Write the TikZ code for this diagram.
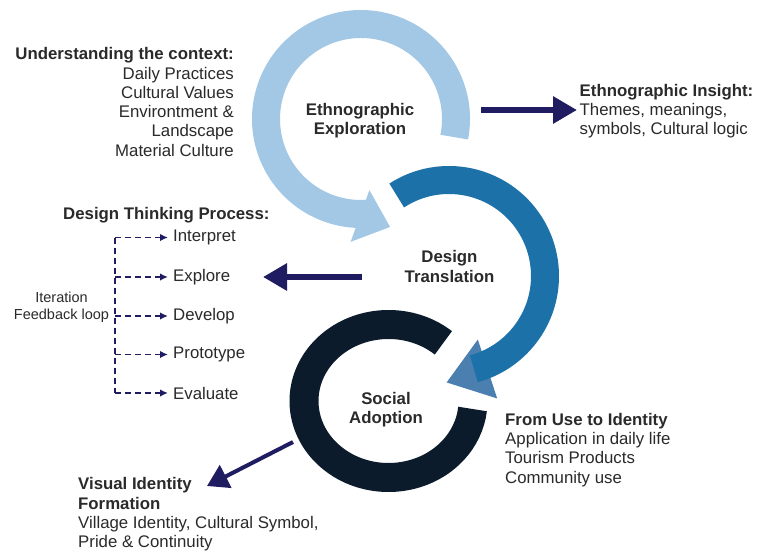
\documentclass[tikz,border=0pt]{standalone}
\usepackage{fontspec}
\setmainfont{Liberation Sans}
\usetikzlibrary{arrows.meta}
\definecolor{ringlight}{HTML}{A3C8E6}
\definecolor{ringmid}{HTML}{1C72A8}
\definecolor{ringhead}{HTML}{4A7FB0}
\definecolor{ringdark}{HTML}{0B1B2B}
\definecolor{navy}{HTML}{1F1C61}
\definecolor{ink}{HTML}{2A2A2A}

\begin{document}
\begin{tikzpicture}[x=1pt,y=-1pt,
  txt/.style={inner sep=0pt, text=ink, font=\fontsize{16.8}{19.3}\selectfont},
  bold/.style={txt, font=\fontsize{16.8}{19.3}\selectfont\bfseries},
  small/.style={txt, font=\fontsize{14.5}{17}\selectfont},
  bigarrow/.style={draw=navy, line width=6pt, -{Triangle[length=24pt,width=26pt]}},
  slimarrow/.style={draw=navy, line width=4pt, -{Triangle[length=21pt,width=25pt]}},
  loopline/.style={draw=navy, line width=1.6pt, dash pattern=on 6pt off 4pt},
  looparrow/.style={loopline, -{Latex[length=8pt,width=7.5pt]}},
]
\useasboundingbox (0,0) rectangle (758,551);
\fill[white] (0,0) rectangle (758,551);

% ---- ring 1: ethnographic exploration (light blue, turning left) ----
\draw[ringlight, line width=28pt] (361,119) ++(11:95)
  arc[start angle=11, end angle=-276, radius=95];
\fill[ringlight, shift={(360,216)}, rotate=-20]
  (0,-27.5) -- (32,0) -- (0,27.5) -- cycle;

% ---- ring 2: design translation (mid blue, turning right) ----
\fill[ringhead, shift={(487.5,369)}, rotate=-161.8]
  (0,-31) -- (43,0) -- (0,31) -- cycle;
\draw[ringmid, line width=28pt] (449,276) ++(-123:96)
  arc[start angle=-123, end angle=75, radius=96];

% ---- ring 3: social adoption (dark navy, open to the right) ----
\draw[ringdark, line width=29pt] (388.5,401) ++(-49.5:84.5 and 76.5)
  arc[start angle=-49.5, end angle=-354, x radius=84.5, y radius=76.5];

% ---- ring labels ----
\node[bold, align=center] (ethno) at (360,121) {Ethnographic\\Exploration};
\node[bold, align=center] (design) at (449.5,266.5) {Design\\Translation};
\node[bold, align=center] (social) at (386,409.5) {Social\\Adoption};

% ---- context block ----
\node[txt, align=right, anchor=east] (context) at (234,102)
  {{\bfseries Understanding the context:}\\Daily Practices\\Cultural Values\\Environtment \&\\Landscape\\Material Culture};

% ---- ethnographic insight ----
\node[txt, align=left, anchor=west] (insight) at (579.5,111)
  {{\bfseries Ethnographic Insight:}\\Themes, meanings,\\symbols, Cultural logic};
\coordinate (insightTail) at (481,110);
\coordinate (insightTip) at (577,110);
\draw[bigarrow] (insightTail) -- (insightTip);

% ---- design thinking process ----
\node[bold, anchor=west] (dtp) at (63,215) {Design Thinking Process:};
\node[txt, anchor=west] (interp) at (173,237.5) {Interpret};
\node[txt, anchor=west] (explore) at (173,277) {Explore};
\node[txt, anchor=west] (develop) at (173,316) {Develop};
\node[txt, anchor=west] (proto) at (173,354.5) {Prototype};
\node[txt, anchor=west] (evalu) at (173,393) {Evaluate};
\node[small, align=center] (iter) at (61.5,307) {Iteration\\Feedback loop};

\coordinate (trunkTop) at (115,237.5);
\coordinate (trunkExplore) at (115,277);
\coordinate (trunkDevelop) at (115,316);
\coordinate (trunkProto) at (115,354.5);
\coordinate (trunkBottom) at (115,393);
\draw[loopline] (trunkTop) -- (trunkBottom);
\draw[looparrow, shorten >=5pt] (trunkTop) -- (interp);
\draw[looparrow, shorten >=5pt] (trunkExplore) -- (explore);
\draw[looparrow, shorten >=5pt] (trunkDevelop) -- (develop);
\draw[looparrow, shorten >=5pt] (trunkProto) -- (proto);
\draw[looparrow, shorten >=5pt] (trunkBottom) -- (evalu);

\coordinate (designTail) at (362,277);
\coordinate (designTip) at (263,277);
\draw[bigarrow] (designTail) -- (designTip);

% ---- from use to identity ----
\node[txt, align=left, anchor=west] (use) at (505,450)
  {{\bfseries From Use to Identity}\\Application in daily life\\Tourism Products\\Community use};

% ---- visual identity formation ----
\node[txt, align=left, anchor=west] (visual) at (78,514.5)
  {{\bfseries Visual Identity}\\{\bfseries Formation}\\Village Identity, Cultural Symbol,\\Pride \& Continuity};
\coordinate (visualTail) at (293,442);
\coordinate (visualTip) at (207,486);
\draw[slimarrow] (visualTail) -- (visualTip);
\end{tikzpicture}
\end{document}
